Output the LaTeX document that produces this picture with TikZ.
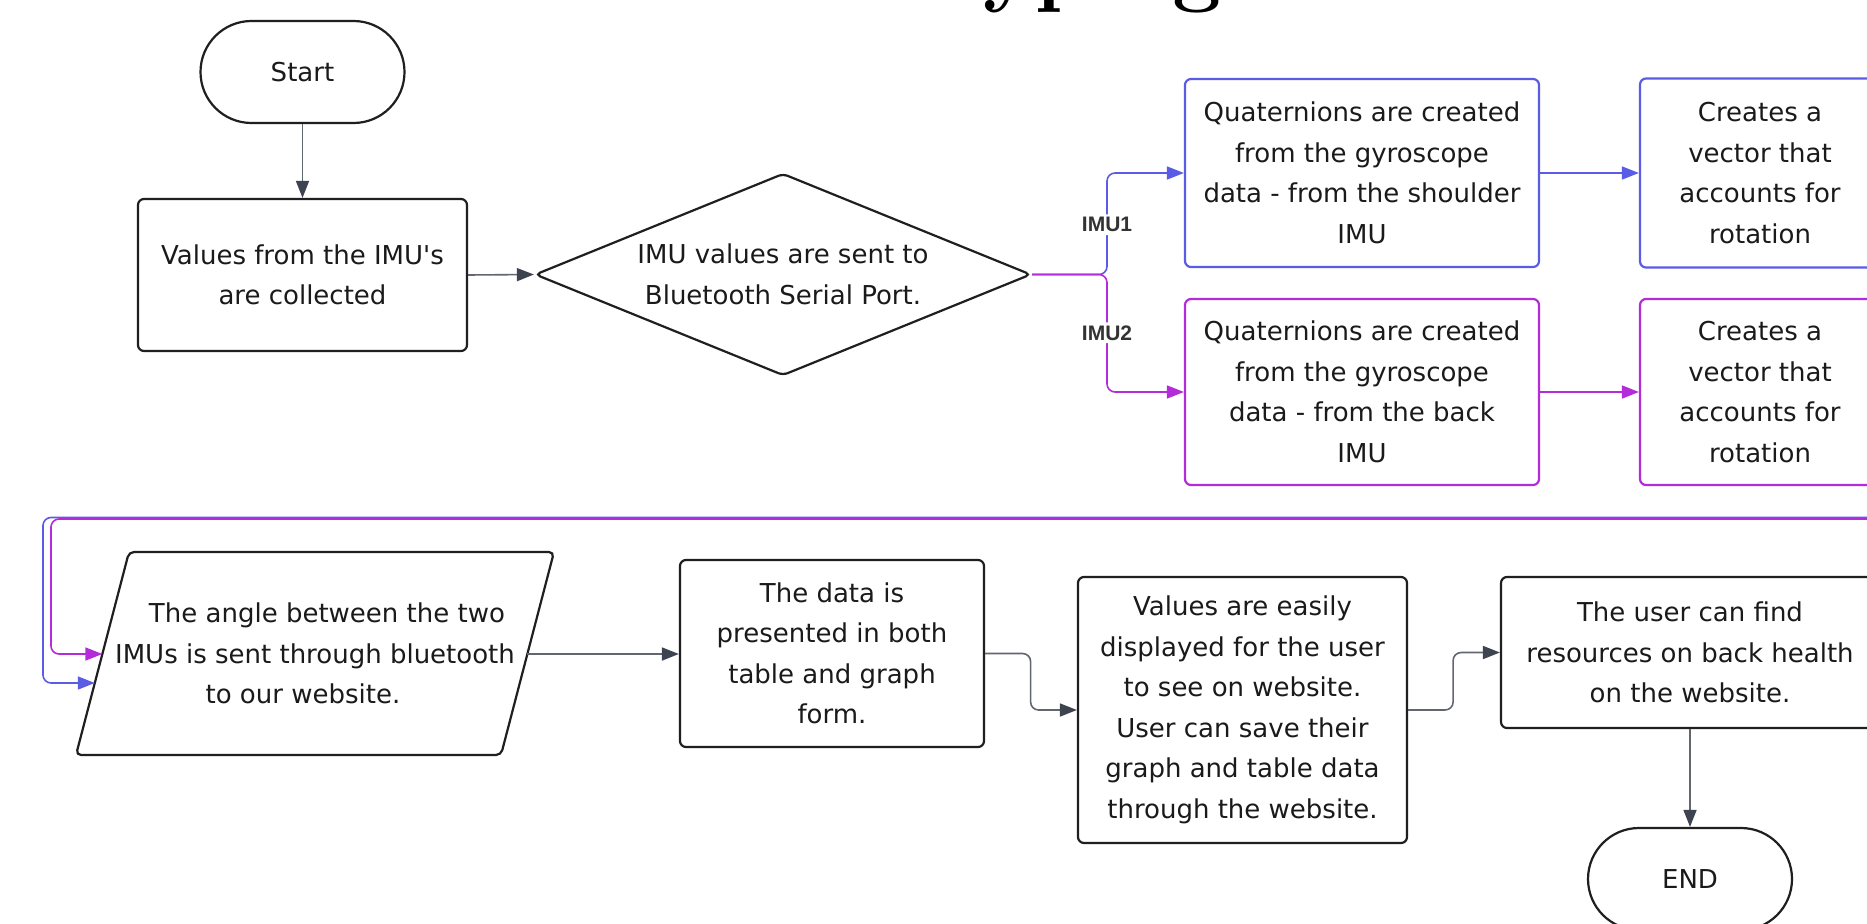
\documentclass[tikz,border=0pt]{standalone}
\usepackage{fontspec}
\newfontfamily\boxfont{DejaVu Sans}
\newfontfamily\lblfont{Liberation Sans}
\usetikzlibrary{arrows.meta,shapes.geometric,shapes.misc,calc}

\definecolor{ink}{HTML}{1F1F1F}
\definecolor{wire}{HTML}{62666F}
\definecolor{tipc}{HTML}{3E4350}
\definecolor{imuA}{HTML}{5B5CE6}
\definecolor{imuB}{HTML}{B42BDA}
\definecolor{txt}{HTML}{1A1A1A}
\definecolor{lbltxt}{HTML}{333333}

\begin{document}
\begin{tikzpicture}[x=1pt,y=-1pt,
  base/.style={font=\boxfont\fontsize{26}{40.5}\selectfont, align=center, inner sep=0pt, text=txt},
  procbox/.style={base, rectangle, draw=#1, line width=2.2pt, rounded corners=6pt, fill=white},
  procbox/.default=ink,
  termbox/.style={base, rounded rectangle, draw=ink, line width=2.2pt, fill=white,
    minimum width=204pt, minimum height=102pt},
  decbox/.style={base, diamond, aspect=2.45, draw=ink, line width=2.2pt, rounded corners=5pt,
    fill=white, minimum width=496pt, minimum height=202pt},
  flow/.style={draw=wire, line width=1.6pt, rounded corners=8pt,
    -{Triangle[length=17pt,width=13pt,color=tipc]}},
  flowA/.style={draw=imuA, line width=1.6pt, rounded corners=8pt,
    -{Triangle[length=17pt,width=13pt,color=imuA]}},
  flowB/.style={draw=imuB, line width=1.6pt, rounded corners=8pt,
    -{Triangle[length=17pt,width=13pt,color=imuB]}},
  imulabel/.style={font=\lblfont\bfseries\fontsize{21}{24}\selectfont, text=lbltxt,
    fill=white, inner sep=3pt}
]
\useasboundingbox (0,0) rectangle (1867,923);
\clip (0,0) rectangle (1867,923);
\fill[white] (0,0) rectangle (1867,923);

% heading, set above the frame
\node[anchor=base west, font=\bfseries\fontsize{87.5}{90}\selectfont, inner sep=0pt]
  (title) at (703,-4.5) {Prototyping};

% ---- first row ----
\node[termbox] (start) at (302.5,72) {Start};
\node[procbox, minimum width=329pt, minimum height=152pt] (vals) at (302.5,275)
  {Values from the IMU's\\are collected};
\node[decbox] (dec) at (783,274.5) {IMU values are sent to\\Bluetooth Serial Port.};

\node[procbox=imuA, minimum width=354pt, minimum height=188pt] (q1) at (1362,173)
  {Quaternions are created\\from the gyroscope\\data - from the shoulder\\IMU};
\node[procbox=imuB, minimum width=354pt, minimum height=186pt] (q2) at (1362,392)
  {Quaternions are created\\from the gyroscope\\data - from the back\\IMU};
\node[procbox=imuA, minimum width=240pt, minimum height=189pt] (c1) at (1760,173)
  {Creates a\\vector that\\accounts for\\rotation};
\node[procbox=imuB, minimum width=240pt, minimum height=186pt] (c2) at (1760,392)
  {Creates a\\vector that\\accounts for\\rotation};

% ---- second row ----
\node[base] (P) at (315,653.5)
  {\hspace*{24pt}The angle between the two\\IMUs is sent through bluetooth\\to our website.\hspace*{24pt}};
\coordinate (Ptl) at ($(P.center)+(-186,-101.5)$);
\coordinate (Ptr) at ($(P.center)+(239,-101.5)$);
\coordinate (Pbr) at ($(P.center)+(186,101.5)$);
\coordinate (Pbl) at ($(P.center)+(-239,101.5)$);
\draw[ink, line width=2.2pt, rounded corners=5pt] (Ptl) -- (Ptr) -- (Pbr) -- (Pbl) -- cycle;
\coordinate (PinM) at ($(Pbl)!0.4975!(Ptl)$);
\coordinate (PinB) at ($(Pbl)!0.3547!(Ptl)$);
\coordinate (Pout) at ($(Pbr)!0.4975!(Ptr)$);

\node[procbox, minimum width=304pt, minimum height=187pt] (data) at (832,653.5)
  {The data is\\presented in both\\table and graph\\form.};
\node[procbox, minimum width=329pt, minimum height=266pt] (disp) at (1242.5,710)
  {Values are easily\\displayed for the user\\to see on website.\\User can save their\\graph and table data\\through the website.};
\node[procbox, minimum width=378pt, minimum height=151pt] (user) at (1690,652.5)
  {The user can find\\resources on back health\\on the website.};
\node[termbox] (endn) at (1690,879) {END};

% ---- connectors ----
\draw[flow] (start.south) -- (vals.north);
\draw[flow] (vals.east) -- (dec.west);

\coordinate (split) at (1107,274.5);
\draw[flowA] (dec.east) -- (split) |- node[imulabel, pos=0.245] {IMU1} (q1.west);
\draw[flowB] (dec.east) -- (split) |- node[imulabel, pos=0.248] {IMU2} (q2.west);

\draw[flowA] (q1.east) -- (c1.west);
\draw[flowB] (q2.east) -- (c2.west);

% return paths from the right-hand column to the second row
\draw[flowA] (c1.east) -- (1898,173) -- (1898,517.5) -- (43,517.5) |- (PinB);
\draw[flowB] (c2.east) -- (1888,392) -- (1888,519) -- (51,519) |- (PinM);

\draw[flow] (Pout) -- (Pout -| data.west);
\draw[flow] (data.east) -- ++(45.5,0) |- (disp.west);
\draw[flow] (disp.east) -- ++(45,0) |- (user.west);
\draw[flow] (user.south) -- (endn.north);
\end{tikzpicture}
\end{document}
